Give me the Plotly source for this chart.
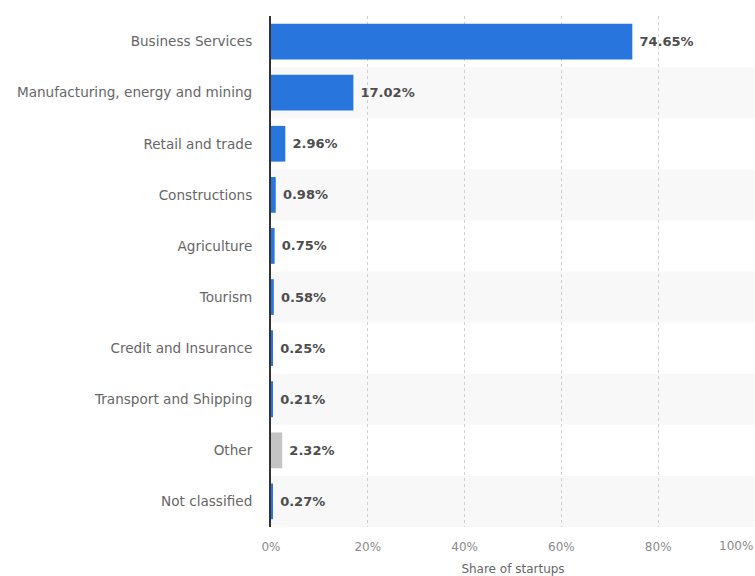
import plotly.graph_objects as go

categories = [
    "Business Services",
    "Manufacturing, energy and mining",
    "Retail and trade",
    "Constructions",
    "Agriculture",
    "Tourism",
    "Credit and Insurance",
    "Transport and Shipping",
    "Other",
    "Not classified",
]
shares = [74.65, 17.02, 2.96, 0.98, 0.75, 0.58, 0.25, 0.21, 2.32, 0.27]
tick_values = [0, 20, 40, 60, 80, 100]
tick_labels = ["0%", "20%", "40%", "60%", "80%", "100%"]

BLUE = "#2876dd"
GREY = "#c4c4c4"
colors = [GREY if c == "Other" else BLUE for c in categories]

fig = go.Figure()
fig.add_trace(go.Bar(
    x=shares,
    y=categories,
    orientation="h",
    marker=dict(color=colors, line=dict(width=0)),
    width=0.7,
    text=[f" <b>{v:.2f}%</b>" for v in shares],
    textposition="outside",
    textfont=dict(family="DejaVu Sans", size=13, color="#4d4d4d"),
    cliponaxis=False,
    hoverinfo="skip",
))

# alternating row stripes
shapes = []
for i, c in enumerate(categories):
    if i % 2 == 1:
        shapes.append(dict(
            type="rect", xref="paper", yref="y", layer="below",
            x0=0, x1=1, y0=i - 0.5, y1=i + 0.5,
            fillcolor="#f8f8f8", line=dict(width=0),
        ))

fig.update_layout(
    width=755,
    height=576,
    margin=dict(l=271, r=0, t=16, b=49),
    plot_bgcolor="white",
    paper_bgcolor="white",
    showlegend=False,
    shapes=shapes,
    font=dict(family="DejaVu Sans", size=13, color="#666666"),
    xaxis=dict(
        range=[0, 100],
        tickvals=tick_values[:-1],
        ticktext=tick_labels[:-1],
        showgrid=True,
        gridcolor="#d0d0d0",
        griddash="dot",
        gridwidth=1,
        zeroline=False,
        showline=False,
        ticklabelstandoff=11,
        tickfont=dict(size=12, color="#8a8a8a"),
        title=dict(text="Share of startups", font=dict(size=12, color="#666666"), standoff=12),
        fixedrange=True,
    ),
    yaxis=dict(
        autorange="reversed",
        showgrid=False,
        showline=True,
        linecolor="#333333",
        linewidth=2,
        ticks="",
        ticklabelstandoff=14,
        tickfont=dict(size=13.6, color="#666666"),
        fixedrange=True,
    ),
    annotations=[dict(
        x=tick_values[-1], y=0, xref="x", yref="paper",
        text=tick_labels[-1], showarrow=False,
        xanchor="right", yanchor="middle", yshift=-19,
        font=dict(size=12, color="#8a8a8a"),
    )],
)

fig.write_html("out.html")
